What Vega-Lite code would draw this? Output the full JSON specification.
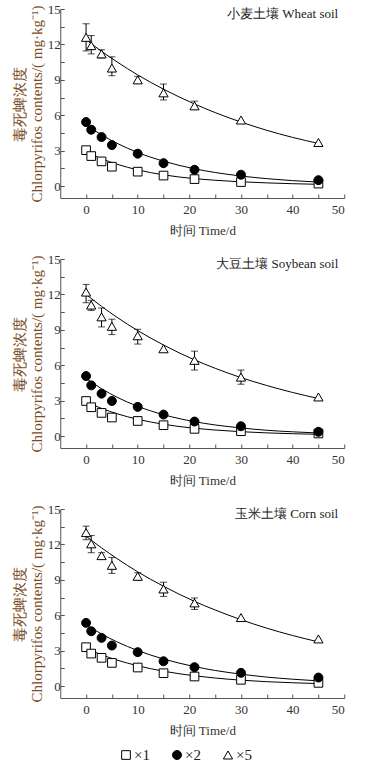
{
  "$schema": "https://vega.github.io/schema/vega-lite/v6.json",
  "padding": {"left": 12, "top": 3, "right": 5, "bottom": 0},
  "background": "white",
  "spacing": 11,
  "center": true,
  "resolve": {"scale": {"x": "independent", "y": "independent"}},
  "datasets": {
    "pts": [
      {"soil": "w", "dose": "×1", "t": 0, "c": 3.05},
      {"soil": "w", "dose": "×1", "t": 1, "c": 2.55},
      {"soil": "w", "dose": "×1", "t": 3, "c": 2.1},
      {"soil": "w", "dose": "×1", "t": 5, "c": 1.65},
      {"soil": "w", "dose": "×1", "t": 10, "c": 1.23},
      {"soil": "w", "dose": "×1", "t": 15, "c": 0.9},
      {"soil": "w", "dose": "×1", "t": 21, "c": 0.6},
      {"soil": "w", "dose": "×1", "t": 30, "c": 0.35},
      {"soil": "w", "dose": "×1", "t": 45, "c": 0.22},
      {"soil": "w", "dose": "×2", "t": 0, "c": 5.43},
      {"soil": "w", "dose": "×2", "t": 1, "c": 4.78},
      {"soil": "w", "dose": "×2", "t": 3, "c": 4.16},
      {"soil": "w", "dose": "×2", "t": 5, "c": 3.48},
      {"soil": "w", "dose": "×2", "t": 10, "c": 2.75},
      {"soil": "w", "dose": "×2", "t": 15, "c": 1.95},
      {"soil": "w", "dose": "×2", "t": 21, "c": 1.39},
      {"soil": "w", "dose": "×2", "t": 30, "c": 0.97},
      {"soil": "w", "dose": "×2", "t": 45, "c": 0.51},
      {"soil": "w", "dose": "×5", "t": 0, "c": 12.6, "lo": 11.45, "hi": 13.75},
      {"soil": "w", "dose": "×5", "t": 1, "c": 11.9, "lo": 11.2, "hi": 12.75},
      {"soil": "w", "dose": "×5", "t": 3, "c": 11.2, "lo": 10.85, "hi": 11.55},
      {"soil": "w", "dose": "×5", "t": 5, "c": 10.0, "lo": 9.35, "hi": 10.95},
      {"soil": "w", "dose": "×5", "t": 10, "c": 9.0, "lo": 8.75, "hi": 9.3},
      {"soil": "w", "dose": "×5", "t": 15, "c": 7.9, "lo": 7.3, "hi": 8.65},
      {"soil": "w", "dose": "×5", "t": 21, "c": 6.8, "lo": 6.55, "hi": 7.2},
      {"soil": "w", "dose": "×5", "t": 30, "c": 5.6},
      {"soil": "w", "dose": "×5", "t": 45, "c": 3.7},
      {"soil": "s", "dose": "×1", "t": 0, "c": 2.98},
      {"soil": "s", "dose": "×1", "t": 1, "c": 2.45},
      {"soil": "s", "dose": "×1", "t": 3, "c": 1.97},
      {"soil": "s", "dose": "×1", "t": 5, "c": 1.58},
      {"soil": "s", "dose": "×1", "t": 10, "c": 1.29},
      {"soil": "s", "dose": "×1", "t": 15, "c": 0.93},
      {"soil": "s", "dose": "×1", "t": 21, "c": 0.62},
      {"soil": "s", "dose": "×1", "t": 30, "c": 0.42},
      {"soil": "s", "dose": "×1", "t": 45, "c": 0.23},
      {"soil": "s", "dose": "×2", "t": 0, "c": 5.09},
      {"soil": "s", "dose": "×2", "t": 1, "c": 4.3},
      {"soil": "s", "dose": "×2", "t": 3, "c": 3.6},
      {"soil": "s", "dose": "×2", "t": 5, "c": 2.98},
      {"soil": "s", "dose": "×2", "t": 10, "c": 2.48},
      {"soil": "s", "dose": "×2", "t": 15, "c": 1.83},
      {"soil": "s", "dose": "×2", "t": 21, "c": 1.24},
      {"soil": "s", "dose": "×2", "t": 30, "c": 0.84},
      {"soil": "s", "dose": "×2", "t": 45, "c": 0.37},
      {"soil": "s", "dose": "×5", "t": 0, "c": 12.2, "lo": 11.3, "hi": 12.85},
      {"soil": "s", "dose": "×5", "t": 1, "c": 11.1, "lo": 10.65, "hi": 11.5},
      {"soil": "s", "dose": "×5", "t": 3, "c": 10.1, "lo": 9.25, "hi": 10.85},
      {"soil": "s", "dose": "×5", "t": 5, "c": 9.3, "lo": 8.6, "hi": 9.9},
      {"soil": "s", "dose": "×5", "t": 10, "c": 8.5, "lo": 7.8, "hi": 9.05},
      {"soil": "s", "dose": "×5", "t": 15, "c": 7.4},
      {"soil": "s", "dose": "×5", "t": 21, "c": 6.42, "lo": 5.6, "hi": 7.2},
      {"soil": "s", "dose": "×5", "t": 30, "c": 5.0, "lo": 4.4, "hi": 5.6},
      {"soil": "s", "dose": "×5", "t": 45, "c": 3.32},
      {"soil": "c", "dose": "×1", "t": 0, "c": 3.3},
      {"soil": "c", "dose": "×1", "t": 1, "c": 2.76},
      {"soil": "c", "dose": "×1", "t": 3, "c": 2.4},
      {"soil": "c", "dose": "×1", "t": 5, "c": 1.97},
      {"soil": "c", "dose": "×1", "t": 10, "c": 1.58},
      {"soil": "c", "dose": "×1", "t": 15, "c": 1.1},
      {"soil": "c", "dose": "×1", "t": 21, "c": 0.82},
      {"soil": "c", "dose": "×1", "t": 30, "c": 0.54},
      {"soil": "c", "dose": "×1", "t": 45, "c": 0.28},
      {"soil": "c", "dose": "×2", "t": 0, "c": 5.36},
      {"soil": "c", "dose": "×2", "t": 1, "c": 4.65},
      {"soil": "c", "dose": "×2", "t": 3, "c": 4.09},
      {"soil": "c", "dose": "×2", "t": 5, "c": 3.44},
      {"soil": "c", "dose": "×2", "t": 10, "c": 2.88},
      {"soil": "c", "dose": "×2", "t": 15, "c": 2.11},
      {"soil": "c", "dose": "×2", "t": 21, "c": 1.61},
      {"soil": "c", "dose": "×2", "t": 30, "c": 1.13},
      {"soil": "c", "dose": "×2", "t": 45, "c": 0.73},
      {"soil": "c", "dose": "×5", "t": 0, "c": 13.0, "lo": 12.4, "hi": 13.55},
      {"soil": "c", "dose": "×5", "t": 1, "c": 12.05, "lo": 11.3, "hi": 12.75},
      {"soil": "c", "dose": "×5", "t": 3, "c": 11.05, "lo": 10.75, "hi": 11.3},
      {"soil": "c", "dose": "×5", "t": 5, "c": 10.23, "lo": 9.55, "hi": 10.9},
      {"soil": "c", "dose": "×5", "t": 10, "c": 9.3, "lo": 9.0, "hi": 9.6},
      {"soil": "c", "dose": "×5", "t": 15, "c": 8.23, "lo": 7.6, "hi": 8.8},
      {"soil": "c", "dose": "×5", "t": 21, "c": 7.05, "lo": 6.5, "hi": 7.47},
      {"soil": "c", "dose": "×5", "t": 30, "c": 5.81},
      {"soil": "c", "dose": "×5", "t": 45, "c": 4.0}
    ],
    "fit": [
      {"soil": "w", "dose": "×1", "t": 0, "c": 2.9},
      {"soil": "w", "dose": "×1", "t": 3, "c": 2.32},
      {"soil": "w", "dose": "×1", "t": 6, "c": 1.86},
      {"soil": "w", "dose": "×1", "t": 10, "c": 1.38},
      {"soil": "w", "dose": "×1", "t": 15, "c": 0.96},
      {"soil": "w", "dose": "×1", "t": 21, "c": 0.64},
      {"soil": "w", "dose": "×1", "t": 25, "c": 0.5},
      {"soil": "w", "dose": "×1", "t": 30, "c": 0.37},
      {"soil": "w", "dose": "×1", "t": 35, "c": 0.28},
      {"soil": "w", "dose": "×1", "t": 40, "c": 0.21},
      {"soil": "w", "dose": "×1", "t": 45, "c": 0.16},
      {"soil": "w", "dose": "×2", "t": 0, "c": 5.2},
      {"soil": "w", "dose": "×2", "t": 3, "c": 4.34},
      {"soil": "w", "dose": "×2", "t": 6, "c": 3.63},
      {"soil": "w", "dose": "×2", "t": 10, "c": 2.85},
      {"soil": "w", "dose": "×2", "t": 15, "c": 2.12},
      {"soil": "w", "dose": "×2", "t": 21, "c": 1.47},
      {"soil": "w", "dose": "×2", "t": 25, "c": 1.16},
      {"soil": "w", "dose": "×2", "t": 30, "c": 0.86},
      {"soil": "w", "dose": "×2", "t": 35, "c": 0.64},
      {"soil": "w", "dose": "×2", "t": 40, "c": 0.47},
      {"soil": "w", "dose": "×2", "t": 45, "c": 0.35},
      {"soil": "w", "dose": "×5", "t": 0, "c": 12.4},
      {"soil": "w", "dose": "×5", "t": 3, "c": 11.42},
      {"soil": "w", "dose": "×5", "t": 6, "c": 10.52},
      {"soil": "w", "dose": "×5", "t": 10, "c": 9.42},
      {"soil": "w", "dose": "×5", "t": 15, "c": 8.21},
      {"soil": "w", "dose": "×5", "t": 21, "c": 6.96},
      {"soil": "w", "dose": "×5", "t": 25, "c": 6.23},
      {"soil": "w", "dose": "×5", "t": 30, "c": 5.43},
      {"soil": "w", "dose": "×5", "t": 35, "c": 4.73},
      {"soil": "w", "dose": "×5", "t": 40, "c": 4.13},
      {"soil": "w", "dose": "×5", "t": 45, "c": 3.62},
      {"soil": "s", "dose": "×1", "t": 0, "c": 2.9},
      {"soil": "s", "dose": "×1", "t": 3, "c": 2.35},
      {"soil": "s", "dose": "×1", "t": 6, "c": 1.9},
      {"soil": "s", "dose": "×1", "t": 10, "c": 1.43},
      {"soil": "s", "dose": "×1", "t": 15, "c": 1.01},
      {"soil": "s", "dose": "×1", "t": 21, "c": 0.67},
      {"soil": "s", "dose": "×1", "t": 25, "c": 0.52},
      {"soil": "s", "dose": "×1", "t": 30, "c": 0.38},
      {"soil": "s", "dose": "×1", "t": 35, "c": 0.28},
      {"soil": "s", "dose": "×1", "t": 40, "c": 0.21},
      {"soil": "s", "dose": "×1", "t": 45, "c": 0.16},
      {"soil": "s", "dose": "×2", "t": 0, "c": 4.9},
      {"soil": "s", "dose": "×2", "t": 3, "c": 4.02},
      {"soil": "s", "dose": "×2", "t": 6, "c": 3.3},
      {"soil": "s", "dose": "×2", "t": 10, "c": 2.53},
      {"soil": "s", "dose": "×2", "t": 15, "c": 1.82},
      {"soil": "s", "dose": "×2", "t": 21, "c": 1.23},
      {"soil": "s", "dose": "×2", "t": 25, "c": 0.95},
      {"soil": "s", "dose": "×2", "t": 30, "c": 0.7},
      {"soil": "s", "dose": "×2", "t": 35, "c": 0.5},
      {"soil": "s", "dose": "×2", "t": 40, "c": 0.37},
      {"soil": "s", "dose": "×2", "t": 45, "c": 0.27},
      {"soil": "s", "dose": "×5", "t": 0, "c": 12.0},
      {"soil": "s", "dose": "×5", "t": 3, "c": 10.99},
      {"soil": "s", "dose": "×5", "t": 6, "c": 10.06},
      {"soil": "s", "dose": "×5", "t": 10, "c": 8.94},
      {"soil": "s", "dose": "×5", "t": 15, "c": 7.72},
      {"soil": "s", "dose": "×5", "t": 21, "c": 6.46},
      {"soil": "s", "dose": "×5", "t": 25, "c": 5.75},
      {"soil": "s", "dose": "×5", "t": 30, "c": 4.96},
      {"soil": "s", "dose": "×5", "t": 35, "c": 4.29},
      {"soil": "s", "dose": "×5", "t": 40, "c": 3.7},
      {"soil": "s", "dose": "×5", "t": 45, "c": 3.19},
      {"soil": "c", "dose": "×1", "t": 0, "c": 3.2},
      {"soil": "c", "dose": "×1", "t": 3, "c": 2.66},
      {"soil": "c", "dose": "×1", "t": 6, "c": 2.21},
      {"soil": "c", "dose": "×1", "t": 10, "c": 1.73},
      {"soil": "c", "dose": "×1", "t": 15, "c": 1.27},
      {"soil": "c", "dose": "×1", "t": 21, "c": 0.88},
      {"soil": "c", "dose": "×1", "t": 25, "c": 0.69},
      {"soil": "c", "dose": "×1", "t": 30, "c": 0.51},
      {"soil": "c", "dose": "×1", "t": 35, "c": 0.38},
      {"soil": "c", "dose": "×1", "t": 40, "c": 0.29},
      {"soil": "c", "dose": "×1", "t": 45, "c": 0.22},
      {"soil": "c", "dose": "×2", "t": 0, "c": 5.2},
      {"soil": "c", "dose": "×2", "t": 3, "c": 4.42},
      {"soil": "c", "dose": "×2", "t": 6, "c": 3.75},
      {"soil": "c", "dose": "×2", "t": 10, "c": 3.02},
      {"soil": "c", "dose": "×2", "t": 15, "c": 2.3},
      {"soil": "c", "dose": "×2", "t": 21, "c": 1.66},
      {"soil": "c", "dose": "×2", "t": 25, "c": 1.33},
      {"soil": "c", "dose": "×2", "t": 30, "c": 1.02},
      {"soil": "c", "dose": "×2", "t": 35, "c": 0.77},
      {"soil": "c", "dose": "×2", "t": 40, "c": 0.59},
      {"soil": "c", "dose": "×2", "t": 45, "c": 0.45},
      {"soil": "c", "dose": "×5", "t": 0, "c": 12.7},
      {"soil": "c", "dose": "×5", "t": 3, "c": 11.71},
      {"soil": "c", "dose": "×5", "t": 6, "c": 10.8},
      {"soil": "c", "dose": "×5", "t": 10, "c": 9.68},
      {"soil": "c", "dose": "×5", "t": 15, "c": 8.46},
      {"soil": "c", "dose": "×5", "t": 21, "c": 7.18},
      {"soil": "c", "dose": "×5", "t": 25, "c": 6.45},
      {"soil": "c", "dose": "×5", "t": 30, "c": 5.63},
      {"soil": "c", "dose": "×5", "t": 35, "c": 4.91},
      {"soil": "c", "dose": "×5", "t": 40, "c": 4.29},
      {"soil": "c", "dose": "×5", "t": 45, "c": 3.75}
    ]
  },
  "vconcat": [
    {
      "spacing": 16,
      "vconcat": [
        {
          "width": 284, "height": 189,
          "title": {"text": "小麦土壤 Wheat soil", "anchor": "end", "frame": "group", "offset": -18, "dx": -6, "fontSize": 13, "fontWeight": "normal", "color": "#222", "font": "Liberation Serif"},
          "encoding": {
            "x": {"field": "t", "type": "quantitative", "title": "时间 Time/d", "scale": {"domain": [-5, 50], "nice": false}, "axis": {"values": [0, 5, 10, 15, 20, 25, 30, 35, 40, 45, 50], "labelExpr": "datum.value % 10 == 0 ? datum.label : ''"}},
            "y": {"field": "c", "type": "quantitative", "title": ["毒死蜱浓度", "Chlorpyrifos contents/( mg·kg⁻¹)"], "scale": {"domain": [-1, 15], "nice": false}, "axis": {"values": [0, 1.5, 3, 4.5, 6, 7.5, 9, 10.5, 12, 13.5, 15], "labelExpr": "datum.value % 3 == 0 ? datum.label : ''"}}
          },
          "layer": [
            {"data": {"name": "fit"}, "transform": [{"filter": "datum.soil == 'w'"}], "mark": {"type": "line", "color": "black", "strokeWidth": 1, "interpolate": "monotone"}, "encoding": {"detail": {"field": "dose"}}},
            {"data": {"name": "pts"}, "transform": [{"filter": "datum.soil == 'w' && datum.lo != null"}], "mark": {"type": "errorbar", "color": "black", "thickness": 1, "ticks": {"size": 7, "color": "black"}}, "encoding": {"y": {"field": "lo", "type": "quantitative", "title": ["毒死蜱浓度", "Chlorpyrifos contents/( mg·kg⁻¹)"]}, "y2": {"field": "hi"}}},
            {"data": {"name": "pts"}, "transform": [{"filter": "datum.soil == 'w'"}], "mark": {"type": "point", "filled": true, "stroke": "black", "strokeWidth": 1, "opacity": 1},
              "encoding": {
                "shape": {"field": "dose", "type": "nominal", "scale": {"domain": ["×1", "×2", "×5"], "range": ["square", "circle", "triangle-up"]}, "legend": null},
                "fill": {"field": "dose", "type": "nominal", "scale": {"domain": ["×1", "×2", "×5"], "range": ["white", "black", "white"]}, "legend": null},
                "size": {"field": "dose", "type": "nominal", "scale": {"domain": ["×1", "×2", "×5"], "range": [75, 85, 115]}, "legend": null}
              }}
          ]
        },
        {
          "width": 284, "height": 189,
          "title": {"text": "大豆土壤 Soybean soil", "anchor": "end", "frame": "group", "offset": -18, "dx": -6, "fontSize": 13, "fontWeight": "normal", "color": "#222", "font": "Liberation Serif"},
          "encoding": {
            "x": {"field": "t", "type": "quantitative", "title": "时间 Time/d", "scale": {"domain": [-5, 50], "nice": false}, "axis": {"values": [0, 5, 10, 15, 20, 25, 30, 35, 40, 45, 50], "labelExpr": "datum.value % 10 == 0 ? datum.label : ''"}},
            "y": {"field": "c", "type": "quantitative", "title": ["毒死蜱浓度", "Chlorpyrifos contents/( mg·kg⁻¹)"], "scale": {"domain": [-1, 15], "nice": false}, "axis": {"values": [0, 1.5, 3, 4.5, 6, 7.5, 9, 10.5, 12, 13.5, 15], "labelExpr": "datum.value % 3 == 0 ? datum.label : ''"}}
          },
          "layer": [
            {"data": {"name": "fit"}, "transform": [{"filter": "datum.soil == 's'"}], "mark": {"type": "line", "color": "black", "strokeWidth": 1, "interpolate": "monotone"}, "encoding": {"detail": {"field": "dose"}}},
            {"data": {"name": "pts"}, "transform": [{"filter": "datum.soil == 's' && datum.lo != null"}], "mark": {"type": "errorbar", "color": "black", "thickness": 1, "ticks": {"size": 7, "color": "black"}}, "encoding": {"y": {"field": "lo", "type": "quantitative", "title": ["毒死蜱浓度", "Chlorpyrifos contents/( mg·kg⁻¹)"]}, "y2": {"field": "hi"}}},
            {"data": {"name": "pts"}, "transform": [{"filter": "datum.soil == 's'"}], "mark": {"type": "point", "filled": true, "stroke": "black", "strokeWidth": 1, "opacity": 1},
              "encoding": {
                "shape": {"field": "dose", "type": "nominal", "scale": {"domain": ["×1", "×2", "×5"], "range": ["square", "circle", "triangle-up"]}, "legend": null},
                "fill": {"field": "dose", "type": "nominal", "scale": {"domain": ["×1", "×2", "×5"], "range": ["white", "black", "white"]}, "legend": null},
                "size": {"field": "dose", "type": "nominal", "scale": {"domain": ["×1", "×2", "×5"], "range": [75, 85, 115]}, "legend": null}
              }}
          ]
        },
        {
          "width": 284, "height": 189,
          "title": {"text": "玉米土壤 Corn soil", "anchor": "end", "frame": "group", "offset": -18, "dx": -6, "fontSize": 13, "fontWeight": "normal", "color": "#222", "font": "Liberation Serif"},
          "encoding": {
            "x": {"field": "t", "type": "quantitative", "title": "时间 Time/d", "scale": {"domain": [-5, 50], "nice": false}, "axis": {"values": [0, 5, 10, 15, 20, 25, 30, 35, 40, 45, 50], "labelExpr": "datum.value % 10 == 0 ? datum.label : ''"}},
            "y": {"field": "c", "type": "quantitative", "title": ["毒死蜱浓度", "Chlorpyrifos contents/( mg·kg⁻¹)"], "scale": {"domain": [-1, 15], "nice": false}, "axis": {"values": [0, 1.5, 3, 4.5, 6, 7.5, 9, 10.5, 12, 13.5, 15], "labelExpr": "datum.value % 3 == 0 ? datum.label : ''"}}
          },
          "layer": [
            {"data": {"name": "fit"}, "transform": [{"filter": "datum.soil == 'c'"}], "mark": {"type": "line", "color": "black", "strokeWidth": 1, "interpolate": "monotone"}, "encoding": {"detail": {"field": "dose"}}},
            {"data": {"name": "pts"}, "transform": [{"filter": "datum.soil == 'c' && datum.lo != null"}], "mark": {"type": "errorbar", "color": "black", "thickness": 1, "ticks": {"size": 7, "color": "black"}}, "encoding": {"y": {"field": "lo", "type": "quantitative", "title": ["毒死蜱浓度", "Chlorpyrifos contents/( mg·kg⁻¹)"]}, "y2": {"field": "hi"}}},
            {"data": {"name": "pts"}, "transform": [{"filter": "datum.soil == 'c'"}], "mark": {"type": "point", "filled": true, "stroke": "black", "strokeWidth": 1, "opacity": 1},
              "encoding": {
                "shape": {"field": "dose", "type": "nominal", "scale": {"domain": ["×1", "×2", "×5"], "range": ["square", "circle", "triangle-up"]}, "legend": null},
                "fill": {"field": "dose", "type": "nominal", "scale": {"domain": ["×1", "×2", "×5"], "range": ["white", "black", "white"]}, "legend": null},
                "size": {"field": "dose", "type": "nominal", "scale": {"domain": ["×1", "×2", "×5"], "range": [75, 85, 115]}, "legend": null}
              }}
          ]
        }
      ]
    },
    {
      "width": 204, "height": 6,
      "data": {"values": [{"dose": "×1"}, {"dose": "×2"}, {"dose": "×5"}]},
      "encoding": {"x": {"field": "dose", "type": "nominal", "axis": null, "scale": {"domain": ["×1", "×2", "×5", "pad"]}}},
      "layer": [
        {"mark": {"type": "point", "filled": true, "stroke": "black", "strokeWidth": 1, "opacity": 1},
          "encoding": {
            "shape": {"field": "dose", "type": "nominal", "scale": {"domain": ["×1", "×2", "×5"], "range": ["square", "circle", "triangle-up"]}, "legend": null},
            "fill": {"field": "dose", "type": "nominal", "scale": {"domain": ["×1", "×2", "×5"], "range": ["white", "black", "white"]}, "legend": null},
            "size": {"field": "dose", "type": "nominal", "scale": {"domain": ["×1", "×2", "×5"], "range": [75, 85, 115]}, "legend": null}
          }},
        {"mark": {"type": "text", "align": "left", "baseline": "middle", "dx": 8, "fontSize": 15, "color": "#222"}, "encoding": {"text": {"field": "dose", "type": "nominal"}}}
      ]
    }
  ],
  "config": {
    "view": {"stroke": null},
    "font": "Liberation Serif",
    "axis": {
      "grid": false,
      "domainColor": "#555",
      "tickColor": "#555",
      "tickSize": -4,
      "labelFont": "Liberation Serif",
      "labelFontSize": 13,
      "labelColor": "#333",
      "titleFont": "Liberation Serif",
      "titleFontSize": 13,
      "titleFontWeight": "normal",
      "titleColor": "#333"
    },
    "axisX": {"labelPadding": 9, "titlePadding": 8},
    "axisY": {"labelPadding": 4, "titleColor": "#7a4c26", "titleFontSize": 15, "titlePadding": 3}
  }
}
